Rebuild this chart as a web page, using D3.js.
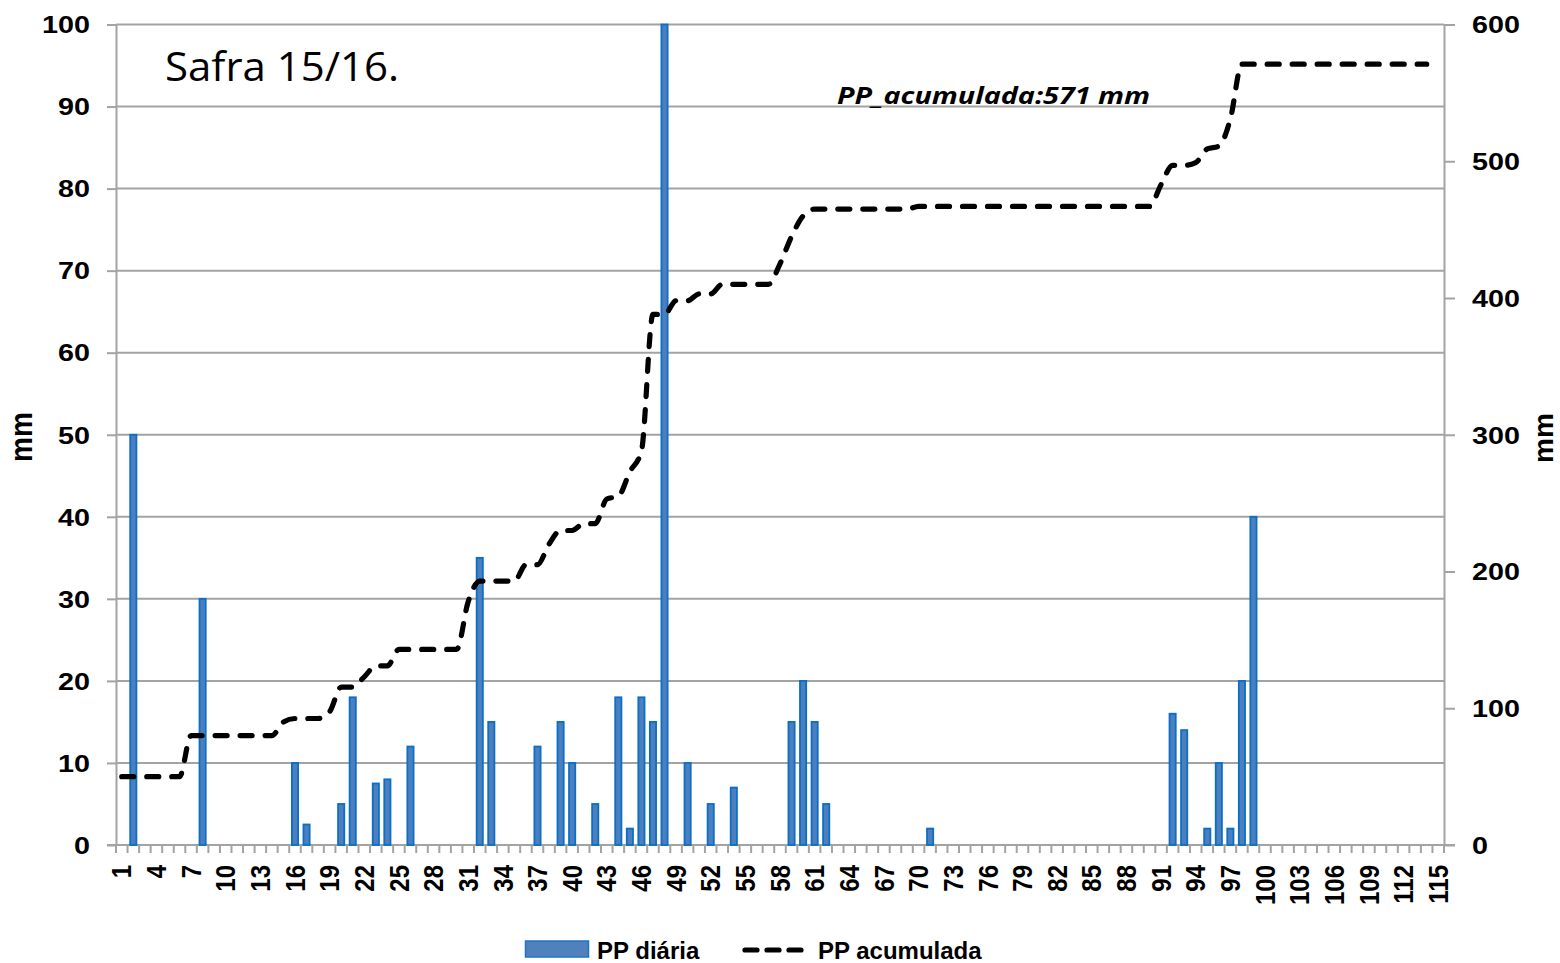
<!DOCTYPE html>
<html>
<head>
<meta charset="utf-8">
<script src="https://cdn.jsdelivr.net/npm/d3@7"></script>
<style>
  html, body { margin: 0; padding: 0; background: #fff; }
  svg { display: block; }
  .lbl { font-family: "Liberation Sans", Arial, sans-serif; font-weight: bold; fill: #000; }
</style>
</head>
<body>
<svg id="chart" width="1560" height="963"></svg>
<script>
// Daily rainfall (mm), days 1..115
const days = d3.range(1, 116);
const ppDiaria = [
  0, 50, 0, 0, 0, 0, 0, 30, 0, 0,
  0, 0, 0, 0, 0, 10, 2.5, 0, 0, 5,
  18, 0, 7.5, 8, 0, 12, 0, 0, 0, 0,
  0, 35, 15, 0, 0, 0, 12, 0, 15, 10,
  0, 5, 0, 18, 2, 18, 15, 100, 0, 10,
  0, 5, 0, 7, 0, 0, 0, 0, 15, 20,
  15, 5, 0, 0, 0, 0, 0, 0, 0, 0,
  2, 0, 0, 0, 0, 0, 0, 0, 0, 0,
  0, 0, 0, 0, 0, 0, 0, 0, 0, 0,
  0, 16, 14, 0, 2, 10, 2, 20, 40, 0,
  0, 0, 0, 0, 0, 0, 0, 0, 0, 0,
  0, 0, 0, 0, 0
];

// Accumulated rainfall (mm), plotted on days 1..114
const ppAcumulada = [
  50, 50, 50, 50, 50, 50, 80, 80, 80, 80,
  80, 80, 80, 80, 90, 92.5, 92.5, 92.5, 97.5, 115.5,
  115.5, 123, 131, 131, 143, 143, 143, 143, 143, 143,
  178, 193, 193, 193, 193, 205, 205, 220, 230, 230,
  235, 235, 253, 255, 273, 288, 388, 388, 398, 398,
  403, 403, 410, 410, 410, 410, 410, 425, 445, 460,
  465, 465, 465, 465, 465, 465, 465, 465, 465, 467,
  467, 467, 467, 467, 467, 467, 467, 467, 467, 467,
  467, 467, 467, 467, 467, 467, 467, 467, 467, 467,
  483, 497, 497, 499, 509, 511, 531, 571, 571, 571,
  571, 571, 571, 571, 571, 571, 571, 571, 571, 571,
  571, 571, 571, 571
];

const leftTicks = [0, 10, 20, 30, 40, 50, 60, 70, 80, 90, 100];
const rightTicks = [0, 100, 200, 300, 400, 500, 600];
const xTickLabels = [1, 4, 7, 10, 13, 16, 19, 22, 25, 28, 31, 34, 37, 40, 43, 46, 49, 52, 55, 58,
  61, 64, 67, 70, 73, 76, 79, 82, 85, 88, 91, 94, 97, 100, 103, 106, 109, 112, 115];

const titleText = "Safra 15/16.";
const noteText = "PP_acumulada:571 mm";
const yTitle = "mm";
const legendBars = "PP diária";
const legendLine = "PP acumulada";

// ---- layout ----
const svg = d3.select("#chart");
const L = 116, R = 1444, T = 24.5, B = 845;
const gridColor = "#a3a3a3";

const x = d3.scaleBand().domain(days).range([L, R]).padding(0);
const yL = d3.scaleLinear().domain([0, 100]).range([B, T]);
const yR = d3.scaleLinear().domain([0, 600]).range([B, T]);
const bw = x.bandwidth();

// horizontal gridlines
svg.append("g").selectAll("line").data(leftTicks.slice(1)).join("line")
  .attr("x1", L).attr("x2", R)
  .attr("y1", d => yL(d)).attr("y2", d => yL(d))
  .attr("stroke", gridColor).attr("stroke-width", 2);

// left axis
const gl = svg.append("g").attr("transform", `translate(${L},0)`)
  .call(d3.axisLeft(yL).tickValues(leftTicks).tickSize(9).tickSizeOuter(0));
gl.select(".domain").attr("stroke", gridColor).attr("stroke-width", 2);
gl.selectAll(".tick line").attr("stroke", gridColor).attr("stroke-width", 2);
gl.selectAll(".tick text").attr("class", "lbl").attr("x", 0).attr("dy", "0.36em")
  .attr("font-size", 23).attr("text-anchor", "end")
  .attr("transform", "translate(-26,0) scale(1.25,1)");

// right axis
const gr = svg.append("g").attr("transform", `translate(${R},0)`)
  .call(d3.axisRight(yR).tickValues(rightTicks).tickSize(11).tickSizeOuter(0));
gr.select(".domain").attr("stroke", gridColor).attr("stroke-width", 2);
gr.selectAll(".tick line").attr("stroke", gridColor).attr("stroke-width", 2);
gr.selectAll(".tick text").attr("class", "lbl").attr("x", 0).attr("dy", "0.36em")
  .attr("font-size", 23).attr("text-anchor", "start")
  .attr("transform", "translate(28,0) scale(1.25,1)");

// bottom axis: line, category boundary ticks, rotated labels
svg.append("line").attr("x1", L - 9).attr("x2", R + 11).attr("y1", B).attr("y2", B)
  .attr("stroke", gridColor).attr("stroke-width", 2);
svg.append("g").selectAll("line").data(days.concat([null])).join("line")
  .attr("x1", d => d === null ? R : x(d)).attr("x2", d => d === null ? R : x(d))
  .attr("y1", B).attr("y2", B + 8)
  .attr("stroke", gridColor).attr("stroke-width", 2);
const gx = svg.append("g").attr("transform", `translate(0,${B})`)
  .call(d3.axisBottom(x).tickValues(xTickLabels).tickSize(0).tickSizeOuter(0));
gx.select(".domain").remove();
gx.selectAll(".tick text").attr("class", "lbl").attr("font-size", 24)
  .attr("x", 0).attr("y", 0).attr("dy", "0.36em").attr("text-anchor", "end")
  .attr("transform", "translate(0,20) rotate(-90) scale(1,1.12)");

// daily bars
const barW = 6.2;
svg.append("g").selectAll("rect").data(days.filter((d, i) => ppDiaria[i] > 0)).join("rect")
  .attr("x", d => x(d) + bw / 2 - barW / 2)
  .attr("width", barW)
  .attr("y", d => yL(ppDiaria[d - 1]))
  .attr("height", d => B - yL(ppDiaria[d - 1]))
  .attr("fill", "#4d7fbf").attr("stroke", "#0a6fc6").attr("stroke-width", 1.8);

// accumulated line
const line = d3.line()
  .x((d, i) => x(days[i]) + bw / 2)
  .y(d => yR(d))
  .curve(d3.curveMonotoneX);
svg.append("path").datum(ppAcumulada).attr("d", line)
  .attr("fill", "none").attr("stroke", "#000").attr("stroke-width", 5.2)
  .attr("stroke-dasharray", "12,13").attr("stroke-linecap", "round");

// title and annotation
svg.append("text").attr("x", 165).attr("y", 81)
  .attr("font-family", "'Open Sans', 'Noto Sans', sans-serif").attr("font-size", 41)
  .attr("textLength", 234).attr("lengthAdjust", "spacingAndGlyphs")
  .text(titleText);
svg.append("text").attr("x", 837).attr("y", 104)
  .attr("font-family", "'Open Sans', 'Noto Sans', sans-serif").attr("font-size", 24)
  .attr("font-weight", "bold").attr("font-style", "italic")
  .attr("textLength", 313).attr("lengthAdjust", "spacingAndGlyphs")
  .text(noteText);

// axis titles
svg.append("text").attr("class", "lbl").attr("font-size", 28)
  .attr("text-anchor", "middle").attr("dy", "0.26em")
  .attr("transform", "translate(24,437) rotate(-90) scale(1,1.15)")
  .text(yTitle);
svg.append("text").attr("class", "lbl").attr("font-size", 28)
  .attr("text-anchor", "middle").attr("dy", "0.26em")
  .attr("transform", "translate(1546,438) rotate(-90)")
  .text(yTitle);

// legend
const lg = svg.append("g");
lg.append("rect").attr("x", 525.5).attr("y", 941).attr("width", 63).attr("height", 16)
  .attr("fill", "#4f81bd").attr("stroke", "#1f74c8").attr("stroke-width", 1.5);
lg.append("text").attr("class", "lbl").attr("x", 597).attr("y", 959).attr("font-size", 24).text(legendBars);
lg.append("line").attr("x1", 745).attr("x2", 801).attr("y1", 950).attr("y2", 950)
  .attr("stroke", "#000").attr("stroke-width", 5.2)
  .attr("stroke-dasharray", "12,10").attr("stroke-linecap", "round");
lg.append("text").attr("class", "lbl").attr("x", 818).attr("y", 959).attr("font-size", 24).text(legendLine);
</script>
</body>
</html>
